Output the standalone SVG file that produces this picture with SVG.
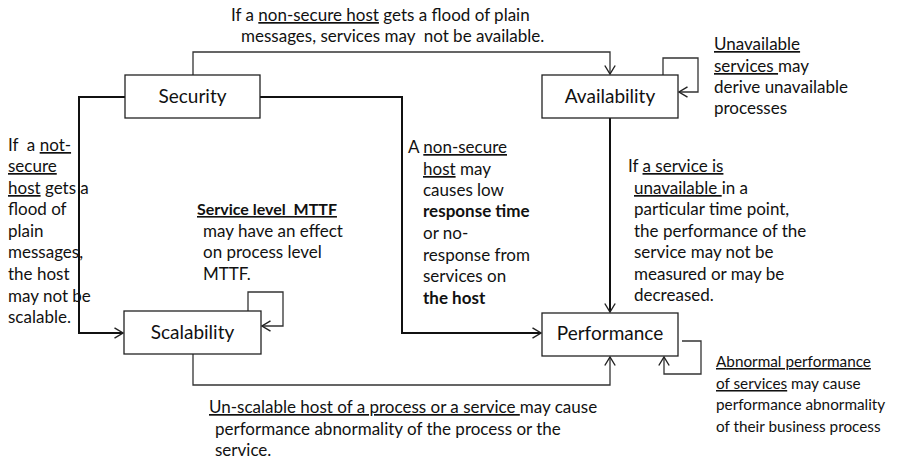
<svg xmlns="http://www.w3.org/2000/svg" width="908" height="462" viewBox="0 0 908 462">
<style>
.box{fill:#fff;stroke:#222;stroke-width:1.3}
.lbl{font-family:Lato,"Open Sans","Liberation Sans",sans-serif;font-size:19px;fill:#111;text-anchor:middle}
.t{font-family:Lato,"Open Sans","Liberation Sans",sans-serif;font-size:17px;fill:#111}
.s16{font-size:16px}
.s15{font-size:15.3px}
.u{text-decoration:underline}
.b{font-weight:bold}
.thin{fill:none;stroke:#333;stroke-width:1.3}
.thick{fill:none;stroke:#111;stroke-width:2}
</style>
<defs>
<marker id="arr" viewBox="0 0 10 12" refX="9" refY="6" markerWidth="10" markerHeight="12" markerUnits="userSpaceOnUse" orient="auto">
<path d="M0.5,0.8 L9,6 L0.5,11.2" fill="none" stroke="#222" stroke-width="1.4"/>
</marker>
</defs>
<g id="connectors">
<path class="thin" d="M193,75 V52 H610 V74" marker-end="url(#arr)"/>
<path class="thick" d="M125,97 H79 V333 H123" marker-end="url(#arr)"/>
<path class="thick" d="M260,97 H402 V333 H541" marker-end="url(#arr)"/>
<path class="thick" d="M610,118 V312" marker-end="url(#arr)"/>
<path class="thin" d="M663,75 V58 H698 V92 H679" marker-end="url(#arr)"/>
<path class="thin" d="M248,311 V292 H283 V326 H262" marker-end="url(#arr)"/>
<path class="thin" d="M193,354 V385 H610 V357" marker-end="url(#arr)"/>
<path class="thin" d="M682,341 H701 V374 H664 V357" marker-end="url(#arr)"/>
</g>
<g id="security"><rect class="box" x="125" y="75" width="135" height="43"/><text class="lbl" x="192.5" y="103">Security</text></g>
<g id="availability"><rect class="box" x="542" y="75" width="136" height="43"/><text class="lbl" x="610" y="103">Availability</text></g>
<g id="scalability"><rect class="box" x="124" y="311" width="137" height="43"/><text class="lbl" x="192.5" y="339">Scalability</text></g>
<g id="performance"><rect class="box" x="542" y="313" width="136" height="43"/><text class="lbl" x="610" y="340">Performance</text></g>
<g id="labels">
<text class="t" x="231" y="21">If a <tspan class="u">non-secure host</tspan> gets a flood of plain</text>
<text class="t" x="241" y="42" xml:space="preserve">messages, services may  not be available.</text>
<text class="t" x="714" y="50"><tspan class="u">Unavailable</tspan></text>
<text class="t" x="714" y="72"><tspan class="u">services </tspan>may</text>
<text class="t" x="714" y="93">derive unavailable</text>
<text class="t" x="714" y="114">processes</text>
<text class="t" x="8" y="151" xml:space="preserve">If  a <tspan class="u">not-</tspan></text>
<text class="t" x="8" y="172"><tspan class="u">secure</tspan></text>
<text class="t" x="8" y="194"><tspan class="u">host</tspan> gets a</text>
<text class="t" x="8" y="215">flood of</text>
<text class="t" x="8" y="237">plain</text>
<text class="t" x="8" y="258">messages,</text>
<text class="t" x="8" y="280">the host</text>
<text class="t" x="8" y="302">may not be</text>
<text class="t" x="8" y="323">scalable.</text>
<text class="t b s16" x="197" y="215" xml:space="preserve"><tspan class="u">Service level  MTTF</tspan></text>
<text class="t" x="203" y="237">may have an effect</text>
<text class="t" x="203" y="258">on process level</text>
<text class="t" x="203" y="280">MTTF.</text>
<text class="t" x="408" y="153">A <tspan class="u">non-secure</tspan></text>
<text class="t" x="423" y="175"><tspan class="u">host</tspan> may</text>
<text class="t" x="423" y="196">causes low</text>
<text class="t b" x="423" y="217">response time</text>
<text class="t" x="423" y="239">or no-</text>
<text class="t" x="423" y="261">response from</text>
<text class="t" x="423" y="282">services on</text>
<text class="t b" x="423" y="304">the host</text>
<text class="t" x="628" y="172">If <tspan class="u">a service is</tspan></text>
<text class="t" x="634" y="194"><tspan class="u">unavailable </tspan>in a</text>
<text class="t" x="634" y="215">particular time point,</text>
<text class="t" x="634" y="237">the performance of the</text>
<text class="t" x="634" y="258">service may not be</text>
<text class="t" x="634" y="280">measured or may be</text>
<text class="t" x="634" y="301">decreased.</text>
<text class="t" x="209" y="413"><tspan class="u">Un-scalable host of a process or a service </tspan>may cause</text>
<text class="t" x="215" y="435">performance abnormality of the process or the</text>
<text class="t" x="215" y="456">service.</text>
<text class="t s15" x="716" y="367"><tspan class="u">Abnormal performance</tspan></text>
<text class="t s15" x="716" y="389"><tspan class="u">of services</tspan> may cause</text>
<text class="t s15" x="716" y="410">performance abnormality</text>
<text class="t s15" x="716" y="432">of their business process</text>
</g>
</svg>
